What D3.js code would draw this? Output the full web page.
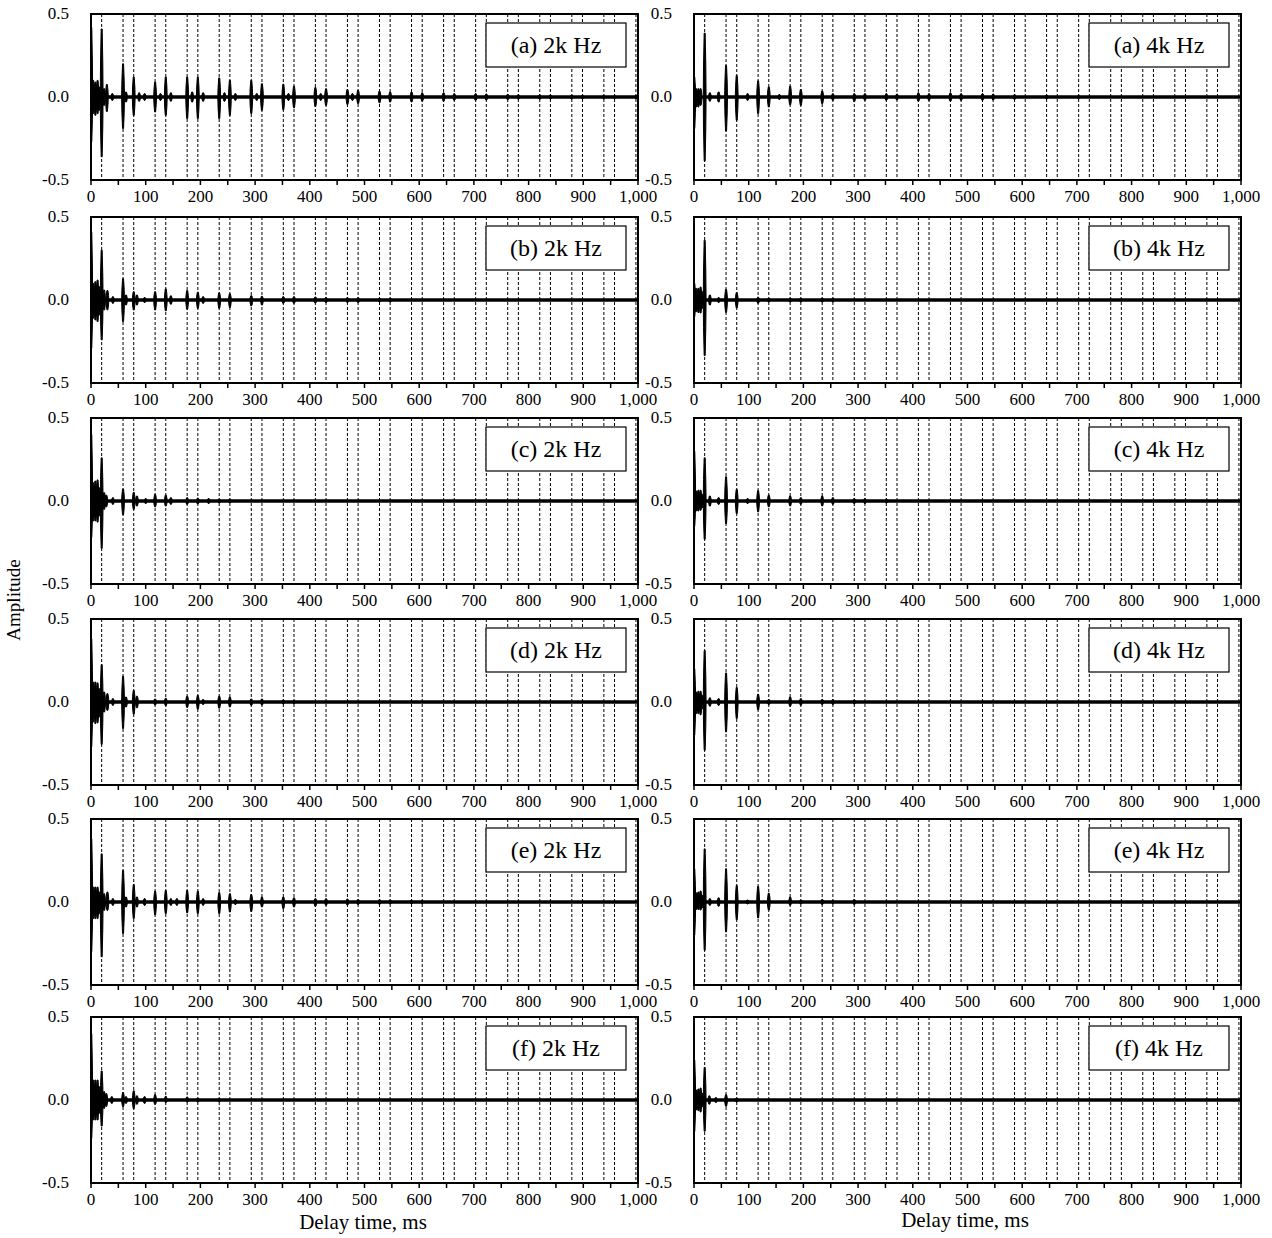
<!DOCTYPE html>
<html>
<head>
<meta charset="utf-8">
<script src="https://cdn.jsdelivr.net/npm/d3@7"></script>
<style>
  body { margin: 0; background: #fff; }
  text { font-family: "Liberation Serif", "Times New Roman", serif; fill: #000; }
</style>
</head>
<body>
<div id="my_dataviz"></div>
<script>

// reflection arrival times (dotted lines), ms
var reflTimes = [19.5, 58.6, 78.1, 117.2, 136.7, 175.8, 195.3, 234.4, 253.9, 293.0, 312.5,
  351.6, 371.1, 410.2, 429.7, 468.8, 488.3, 527.4, 546.9, 586.0, 605.5, 644.6, 664.1,
  703.2, 722.7, 761.8, 781.3, 820.4, 839.9, 879.0, 898.5, 937.6, 957.1, 996.2];

var xTicks = [0, 100, 200, 300, 400, 500, 600, 700, 800, 900, 1000];
var xMinorTicks = [0, 50, 100, 150, 200, 250, 300, 350, 400, 450, 500, 550, 600, 650, 700, 750, 800, 850, 900, 950, 1000];
var yTicks = [-0.5, 0.0, 0.5];
var yTickLabels = ["-0.5", "0.0", "0.5"];

var panelLabels = ["(a) 2k Hz", "(a) 4k Hz", "(b) 2k Hz", "(b) 4k Hz", "(c) 2k Hz", "(c) 4k Hz",
  "(d) 2k Hz", "(d) 4k Hz", "(e) 2k Hz", "(e) 4k Hz", "(f) 2k Hz", "(f) 4k Hz"];

// bursts: [time ms, positive peak, negative peak]
var a2k = [[0.5,0.42,0.27],[4,0.10,0.10],[8,0.09,0.11],[12,0.10,0.10],[15,0.06,0.08],
  [19.5,0.41,0.36],[24,0.05,0.05],[29,0.075,0.087],[39,0.02,0.02],[58.6,0.20,0.19],[64,0.03,0.03],
  [78.1,0.12,0.11],[88,0.025,0.025],[98,0.02,0.02],[117.2,0.09,0.09],[127,0.02,0.02],
  [136.7,0.12,0.11],[146,0.025,0.025],[175.8,0.12,0.13],[185,0.03,0.03],[195.3,0.12,0.13],
  [205,0.025,0.025],[234.4,0.115,0.13],[244,0.025,0.025],[253.9,0.10,0.11],[264,0.02,0.02],
  [293.0,0.10,0.10],[303,0.02,0.02],[312.5,0.08,0.08],[351.6,0.077,0.077],[361,0.02,0.02],
  [371.1,0.065,0.065],[410.2,0.057,0.057],[420,0.02,0.02],[429.7,0.05,0.05],[468.8,0.045,0.045],
  [478,0.02,0.02],[488.3,0.04,0.04],[527.4,0.035,0.035],[546.9,0.03,0.03],[586.0,0.03,0.03],
  [605.5,0.025,0.025],[644.6,0.025,0.025],[664.1,0.02,0.02],[703.2,0.02,0.02],[722.7,0.018,0.018],
  [761.8,0.016,0.016],[781.3,0.014,0.014],[820.4,0.013,0.013],[839.9,0.012,0.012],
  [879.0,0.012,0.012],[898.5,0.011,0.011],[937.6,0.011,0.011],[957.1,0.01,0.01],[996.2,0.01,0.01]];

var a4k = [[0.5,0.12,0.19],[4,0.05,0.06],[8,0.05,0.06],[12,0.05,0.05],[19.5,0.385,0.385],
  [29,0.025,0.025],[45,0.03,0.03],[58.6,0.19,0.205],[78.1,0.13,0.14],[98,0.02,0.02],
  [117.2,0.097,0.10],[136.7,0.06,0.06],[156,0.015,0.015],[175.8,0.065,0.047],[195.3,0.045,0.05],
  [234.4,0.036,0.04],[253.9,0.02,0.02],[293.0,0.02,0.028],[312.5,0.02,0.02],[351.6,0.02,0.02],
  [371.1,0.018,0.018],[410.2,0.025,0.025],[429.7,0.02,0.02],[468.8,0.025,0.025],[488.3,0.02,0.02],
  [527.4,0.02,0.02],[546.9,0.018,0.018],[586.0,0.015,0.015],[644.6,0.012,0.012],[703.2,0.01,0.01]];

var b2k = [[0.5,0.41,0.29],[4,0.10,0.11],[8,0.11,0.12],[12,0.12,0.13],[15,0.08,0.09],
  [19.5,0.30,0.24],[24,0.06,0.06],[30,0.057,0.059],[40,0.02,0.02],[58.6,0.128,0.13],[64,0.03,0.03],
  [78.1,0.05,0.06],[84,0.03,0.03],[98,0.015,0.015],[117.2,0.05,0.06],[136.7,0.067,0.065],
  [146,0.025,0.025],[175.8,0.057,0.055],[195.3,0.047,0.05],[205,0.02,0.02],[234.4,0.043,0.05],
  [253.9,0.037,0.045],[293.0,0.026,0.035],[312.5,0.022,0.03],[351.6,0.02,0.02],[371.1,0.02,0.02],
  [410.2,0.018,0.018],[429.7,0.015,0.015],[468.8,0.015,0.015],[488.3,0.015,0.015],
  [527.4,0.012,0.012],[546.9,0.012,0.012]];

var b4k = [[0.5,0.10,0.10],[4,0.07,0.07],[8,0.07,0.075],[12,0.078,0.078],[15,0.05,0.05],
  [19.5,0.36,0.335],[29,0.03,0.03],[45,0.015,0.015],[58.6,0.064,0.074],[78.1,0.045,0.048],
  [117.2,0.017,0.02],[136.7,0.012,0.012],[175.8,0.012,0.012],[195.3,0.012,0.012],
  [234.4,0.012,0.012],[253.9,0.012,0.012]];

var c2k = [[0.5,0.40,0.22],[4,0.11,0.12],[8,0.12,0.12],[12,0.127,0.127],[15,0.08,0.09],
  [19.5,0.26,0.285],[24,0.05,0.05],[28,0.035,0.035],[40,0.02,0.02],[58.6,0.072,0.082],
  [78.1,0.052,0.05],[84,0.03,0.03],[100,0.015,0.015],[117.2,0.04,0.035],[136.7,0.035,0.03],
  [146,0.02,0.02],[175.8,0.02,0.02],[195.3,0.018,0.018],[215,0.015,0.015],[234.4,0.012,0.012],
  [253.9,0.012,0.012]];

var c4k = [[0.5,0.30,0.15],[4,0.06,0.06],[8,0.065,0.06],[12,0.065,0.055],[15,0.04,0.04],
  [19.5,0.26,0.23],[29,0.03,0.03],[45,0.02,0.02],[58.6,0.146,0.136],[78.1,0.07,0.075],
  [98,0.015,0.015],[117.2,0.062,0.065],[136.7,0.035,0.035],[175.8,0.03,0.03],[195.3,0.02,0.02],
  [234.4,0.03,0.03],[253.9,0.02,0.02],[293.0,0.015,0.015],[312.5,0.015,0.015],[351.6,0.012,0.012]];

var d2k = [[0.5,0.38,0.27],[4,0.12,0.12],[8,0.12,0.13],[12,0.115,0.125],[15,0.08,0.09],
  [19.5,0.225,0.255],[24,0.06,0.06],[30,0.05,0.05],[40,0.02,0.02],[58.6,0.155,0.16],[64,0.03,0.03],
  [78.1,0.07,0.073],[84,0.035,0.035],[117.2,0.018,0.018],[136.7,0.022,0.022],[175.8,0.035,0.033],
  [195.3,0.04,0.043],[205,0.015,0.015],[234.4,0.035,0.037],[253.9,0.03,0.03],[293.0,0.018,0.02],
  [312.5,0.018,0.018],[351.6,0.012,0.012],[371.1,0.01,0.01]];

var d4k = [[0.5,0.20,0.20],[4,0.06,0.07],[8,0.065,0.07],[12,0.065,0.077],[15,0.04,0.04],
  [19.5,0.31,0.29],[29,0.025,0.025],[45,0.02,0.02],[58.6,0.175,0.18],[78.1,0.088,0.10],
  [117.2,0.047,0.047],[136.7,0.015,0.015],[175.8,0.03,0.026],[195.3,0.02,0.02],
  [234.4,0.015,0.015],[253.9,0.015,0.015],[293.0,0.012,0.012]];

var e2k = [[0.5,0.38,0.30],[4,0.09,0.10],[8,0.09,0.10],[12,0.09,0.10],[15,0.06,0.07],
  [19.5,0.29,0.33],[24,0.05,0.05],[30,0.06,0.05],[40,0.02,0.02],[58.6,0.19,0.19],[64,0.03,0.03],
  [78.1,0.105,0.10],[84,0.03,0.03],[98,0.02,0.02],[117.2,0.065,0.077],[136.7,0.07,0.07],
  [146,0.02,0.02],[157,0.02,0.02],[175.8,0.07,0.065],[195.3,0.065,0.07],[205,0.02,0.02],
  [234.4,0.057,0.07],[253.9,0.05,0.06],[264,0.015,0.015],[293.0,0.045,0.057],[312.5,0.03,0.03],
  [351.6,0.03,0.04],[371.1,0.025,0.03],[410.2,0.02,0.025],[429.7,0.02,0.02],[468.8,0.018,0.018],
  [488.3,0.015,0.015],[527.4,0.015,0.015],[546.9,0.012,0.012],[586.0,0.012,0.012],[605.5,0.01,0.01]];

var e4k = [[0.5,0.20,0.20],[4,0.055,0.045],[8,0.06,0.045],[12,0.066,0.048],[15,0.04,0.035],
  [19.5,0.32,0.29],[29,0.02,0.02],[45,0.025,0.025],[58.6,0.20,0.18],[78.1,0.10,0.107],
  [98,0.012,0.012],[117.2,0.094,0.096],[136.7,0.053,0.048],[175.8,0.03,0.02],[195.3,0.012,0.012],
  [234.4,0.015,0.015],[253.9,0.01,0.01],[293.0,0.015,0.015]];

var f2k = [[0.5,0.40,0.23],[4,0.12,0.12],[8,0.12,0.12],[12,0.12,0.12],[15,0.08,0.08],
  [19.5,0.175,0.157],[24,0.05,0.05],[28,0.038,0.038],[38,0.02,0.02],[58.6,0.045,0.04],
  [64,0.02,0.02],[78.1,0.055,0.052],[84,0.025,0.025],[98,0.02,0.02],[117.2,0.032,0.026],
  [136.7,0.022,0.015],[175.8,0.018,0.012],[195.3,0.012,0.012],[234.4,0.01,0.01]];

var f4k = [[0.5,0.24,0.19],[4,0.06,0.06],[8,0.066,0.064],[12,0.072,0.072],[15,0.04,0.04],
  [19.5,0.196,0.188],[28,0.025,0.025],[40,0.015,0.015],[58.6,0.032,0.038],[78.1,0.012,0.012]];

var panelData = [a2k, a4k, b2k, b4k, c2k, c4k, d2k, d4k, e2k, e4k, f2k, f4k];

// layout
var colLeft = [91, 694],
    rowTop = [14, 217, 418, 619, 819, 1017],
    width = 547,
    height = 166,
    hw = 2.6;   // half width of a burst, ms

var svg = d3.select("#my_dataviz")
  .append("svg")
  .attr("width", 1272)
  .attr("height", 1238);

var x = d3.scaleLinear().domain([0, 1000]).range([0, width]);
var y = d3.scaleLinear().domain([-0.5, 0.5]).range([height, 0]);

var burstLine = d3.line()
  .x(function(p) { return x(p[0]); })
  .y(function(p) { return y(p[1]); });

// narrow needle: nearly constant width, tapering a little to the tips
function burstPath(b) {
  var t = b[0], u = b[1], d = -b[2];
  return burstLine([[t - hw, 0], [t - hw * 0.8, u * 0.5], [t - hw * 0.35, u], [t + hw * 0.35, u],
    [t + hw * 0.8, u * 0.5], [t + hw, 0], [t + hw * 0.8, d * 0.5], [t + hw * 0.35, d],
    [t - hw * 0.35, d], [t - hw * 0.8, d * 0.5]]) + "Z";
}

panelData.forEach(function(data, i) {
  var col = i % 2, row = Math.floor(i / 2);
  var g = svg.append("g")
    .attr("transform", "translate(" + colLeft[col] + "," + rowTop[row] + ")");

  g.append("clipPath").attr("id", "clip" + i)
    .append("rect").attr("width", width).attr("height", height);

  // dotted reflection lines
  g.selectAll(".refl")
    .data(reflTimes)
    .enter().append("line")
    .attr("class", "refl")
    .attr("x1", function(d) { return x(d); })
    .attr("x2", function(d) { return x(d); })
    .attr("y1", 0)
    .attr("y2", height)
    .attr("stroke", "#000")
    .attr("stroke-width", 1)
    .attr("stroke-dasharray", "3,2");

  var wave = g.append("g").attr("clip-path", "url(#clip" + i + ")");

  // noise floor
  wave.append("line")
    .attr("x1", x(0)).attr("x2", x(1000))
    .attr("y1", y(0)).attr("y2", y(0))
    .attr("stroke", "#000")
    .attr("stroke-width", 3.5);

  wave.selectAll(".burst")
    .data(data)
    .enter().append("path")
    .attr("class", "burst")
    .attr("d", burstPath)
    .attr("fill", "#000")
    .attr("stroke", "#000")
    .attr("stroke-width", 1)
    .attr("stroke-linejoin", "round");

  // label box
  g.append("rect")
    .attr("x", width - 12 - 140)
    .attr("y", 9)
    .attr("width", 140)
    .attr("height", 44)
    .attr("fill", "#fff")
    .attr("stroke", "#000")
    .attr("stroke-width", 1.2);

  g.append("text")
    .attr("x", width - 12 - 70)
    .attr("y", 39)
    .attr("text-anchor", "middle")
    .style("font-size", "24px")
    .text(panelLabels[i]);

  // frame
  g.append("rect")
    .attr("width", width)
    .attr("height", height)
    .attr("fill", "none")
    .attr("stroke", "#000")
    .attr("stroke-width", 2);

  // x ticks every 50, labels every 100
  g.selectAll(".xtick")
    .data(xMinorTicks)
    .enter().append("line")
    .attr("x1", function(d) { return x(d); })
    .attr("x2", function(d) { return x(d); })
    .attr("y1", height)
    .attr("y2", height + 5)
    .attr("stroke", "#000")
    .attr("stroke-width", 1.5);

  g.selectAll(".xlab")
    .data(xTicks)
    .enter().append("text")
    .attr("x", function(d) { return x(d); })
    .attr("y", height + 22)
    .attr("text-anchor", "middle")
    .style("font-size", "17px")
    .text(d3.format(","));

  g.selectAll(".ylab")
    .data(yTicks)
    .enter().append("text")
    .attr("x", -22)
    .attr("y", function(d) { return y(d); })
    .attr("dy", "0.3em")
    .attr("text-anchor", "end")
    .style("font-size", "17px")
    .text(function(d, j) { return yTickLabels[j]; });
});

svg.append("text")
  .attr("transform", "translate(20,600) rotate(-90)")
  .attr("text-anchor", "middle")
  .style("font-size", "19px")
  .text("Amplitude");

svg.append("text")
  .attr("x", 363)
  .attr("y", 1229)
  .attr("text-anchor", "middle")
  .style("font-size", "21px")
  .text("Delay time, ms");

svg.append("text")
  .attr("x", 965)
  .attr("y", 1227)
  .attr("text-anchor", "middle")
  .style("font-size", "21px")
  .text("Delay time, ms");

</script>
</body>
</html>
